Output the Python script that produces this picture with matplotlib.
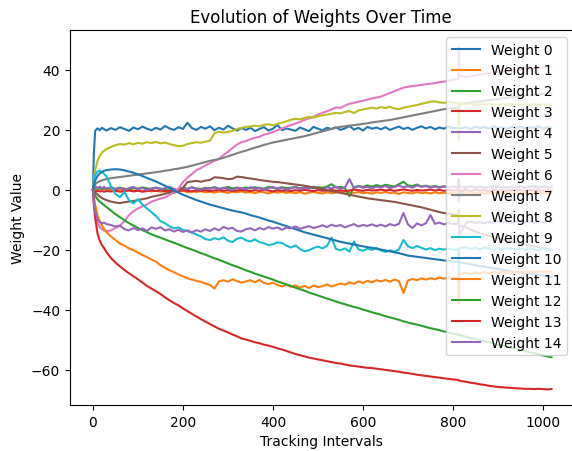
import matplotlib
matplotlib.use("Agg")
import matplotlib.pyplot as plt

# Tracking interval sampling grid (x values)
T = [0, 2, 5, 10, 15, 20, 25, 30] + list(range(40, 801, 10)) + [812, 813, 814] + list(range(830, 1011, 10)) + [1019]

w0 = [0, 12.0, 19.6, 20.4, 19.8, 20.6, 20.1, 19.7,
      20.5, 19.9, 20.8, 20.2, 19.6, 20.7, 20.1, 21.0, 20.3, 19.8,
      20.6, 20.0, 21.2, 20.4, 19.9, 20.8, 20.2, 22.3, 20.5, 19.9,
      20.9, 20.3, 21.1, 19.8, 20.6, 20.0, 21.3, 20.4, 19.7, 20.5,
      19.9, 20.6, 19.5, 20.2, 20.8, 19.7, 20.3, 21.6, 19.8, 20.4,
      20.0, 19.6, 20.7, 20.1, 19.5, 20.9, 20.3, 19.8, 20.6, 20.2,
      20.8, 19.9, 20.4, 21.2, 20.0, 20.6, 19.7, 20.9, 20.3, 20.7,
      20.1, 20.8, 19.9, 20.5, 21.0, 20.2, 20.7, 19.9, 20.6, 21.1,
      20.4, 20.9, 20.1, 20.7, 20.3, 21.0, 20.5,
      20.6, 17.5, 20.4,
      20.8, 20.2, 21.0, 20.5, 20.9, 20.3, 21.1, 20.6, 20.8, 20.2,
      20.9, 20.5, 21.0, 20.4, 20.8, 20.6, 21.1, 20.3, 20.7,
      20.6]

w1 = [0, 0.3, 0.5, 0.4, 0.2, 0.3, 0.1, 0.2,
      0.0, -0.2, 0.1, -0.3, -0.1, -0.4, -0.2, -0.5, -0.3, -0.6,
      -0.4, -0.7, -0.5, -0.3, -0.8, -0.6, -0.4, -0.9, -0.6, -0.8,
      -0.5, -0.9, -0.7, -1.0, -0.6, -0.8, -1.1, -0.7, -0.9, -0.6,
      -1.0, -0.8, -1.2, -0.7, -0.9, -1.3, -0.8, -1.0, -0.7, -1.1,
      -0.9, -1.2, -0.8, -1.4, -1.0, -0.8, -1.1, -1.3, -0.9, -1.2,
      -1.0, -0.7, -1.3, -0.9, -1.1, -0.8, -1.2, -1.0, -1.4, -0.9,
      -1.1, -0.8, -1.2, -1.0, -1.5, -0.9, -1.1, -1.3, -0.8, -1.2,
      -1.0, -1.3, -0.9, -1.2, -1.0, -1.4, -1.1,
      -1.2, -4.0, -1.0,
      -1.3, -0.9, -1.2, -1.0, -1.4, -1.1, -0.9, -1.3, -1.0, -1.2,
      -0.9, -1.3, -1.1, -1.0, -1.4, -1.2, -0.9, -1.1, -1.3,
      -1.1]

w2 = [0, 0.2, 0.4, 0.3, 0.5, 0.2, 0.4, 0.3,
      0.5, 0.2, 0.6, 0.3, 0.1, 0.5, 0.3, 0.7, 0.4, 0.2,
      0.6, 0.3, 0.0, -0.4, -1.2, 0.2, 0.5, 0.3, 0.7, 0.4,
      0.2, 0.6, 0.4, 0.8, 0.3, 0.5, 0.9, 0.4, 0.6, 0.3,
      0.7, 0.4, 0.8, 0.5, 0.3, 0.9, 0.6, 0.4, 0.8, 0.5,
      0.6, 0.9, 0.4, 0.7, 1.0, 0.5, 0.8, 0.6, 1.0, 1.8,
      0.7, 0.9, 0.5, -2.2, 0.8, 1.2, 0.9, 1.4, 1.0, 1.5,
      1.1, 1.6, 1.3, 1.0, 1.8, 2.6, 1.4, 1.2, 1.7, 1.0,
      1.3, 0.9, 1.2, 0.8, 1.1, 0.7, 1.0,
      0.9, 3.5, -2.5,
      0.8, 1.1, 0.7, 1.0, 0.6, 0.9, 1.2, 0.8, 1.0, 0.7,
      1.0, 0.8, 1.1, 0.7, 0.9, 1.2, 0.8, 1.0, 0.9,
      0.9]

w3 = [0, -0.3, -0.5, -0.4, -0.6, -0.5, -0.7, -0.5,
      -0.6, -0.4, -0.7, -0.5, -0.3, -0.6, -0.4, -0.7, -0.5, -0.3,
      -0.5, -0.2, -0.6, -0.4, -0.3, -0.5, -0.2, -0.4, -0.6, -0.3,
      -0.4, -0.2, -0.5, -0.3, -0.1, -0.4, -0.2, -0.5, -0.3, -0.1,
      -0.3, -0.5, -0.2, -0.4, -0.1, -0.3, -0.6, -0.2, -0.4, -0.3,
      -0.5, -0.2, -0.4, -0.1, -0.3, -0.5, -0.2, -0.4, -0.3, -0.1,
      -0.4, -0.2, -0.5, -0.3, 0.0, -0.2, -0.4, -0.1, -0.3, -0.2,
      0.0, -0.3, -0.1, -0.4, -0.2, 0.1, -0.2, -0.4, -0.1, -0.3,
      -0.2, 0.0, -0.3, -0.1, -0.4, -0.2, -0.3,
      -0.2, 1.5, -0.4,
      -0.2, -0.4, -0.1, -0.3, -0.2, -0.5, -0.1, -0.3, -0.2, -0.4,
      -0.1, -0.3, -0.2, -0.4, -0.1, -0.3, -0.2, -0.4, -0.2,
      -0.3]

w4 = [0, 0.6, 1.2, 0.5, 1.0, 0.4, 0.9, 0.3,
      0.8, 0.2, 0.7, -0.1, 0.5, 0.9, 0.1, 0.6, -0.2, 0.4,
      0.7, 0.0, 0.5, 0.9, 0.2, -0.3, 0.6, 0.1, 0.8, 0.3,
      -0.1, 0.5, 0.2, 0.8, 0.0, 0.6, 0.3, -0.2, 0.7, 0.4,
      0.1, 0.8, 0.3, 0.6, -0.1, 0.5, 0.9, 0.2, 0.6, 0.0,
      0.4, 0.8, 0.2, 0.7, 0.3, 1.0, 0.5, 0.1, 0.8, 0.4,
      0.9, 0.3, 0.7, 3.5, 0.5, 1.1, 0.6, 0.9, 0.4, 1.0,
      0.7, 1.2, 0.5, 0.9, 1.3, 0.8, 1.1, 0.6, 1.4, 0.9,
      1.2, 0.7, 1.0, 0.6, 1.1, 0.8, 0.9,
      0.7, -3.0, 1.0,
      0.8, 1.1, 0.6, 0.9, 0.5, 1.0, 0.7, 1.2, 0.8, 0.6,
      1.0, 0.7, 0.9, 0.5, 1.1, 0.8, 0.6, 1.0, 0.7,
      0.8]

w5 = [0, -0.4, -0.9, -1.6, -2.3, -2.8, -3.2, -3.5,
      -4.0, -4.3, -4.5, -4.2, -4.0, -3.8, -3.5, -3.2, -2.9, -2.4,
      -2.1, -1.8, -1.4, -1.0, -0.6, -0.2, 0.6, 2.5, 2.7, 2.9,
      2.6, 3.0, 3.2, 4.1, 4.0, 3.8, 3.5, 3.6, 4.3, 4.2,
      3.9, 3.7, 3.5, 3.2, 3.0, 2.8, 2.6, 2.5, 2.3, 2.1,
      1.9, 1.7, 1.5, 1.3, 1.0, 0.7, 0.4, 0.1, -0.2, -0.5,
      -0.8, -1.1, -1.4, -1.7, -2.0, -2.3, -2.6, -2.9, -3.1, -3.3,
      -3.5, -3.7, -3.9, -4.1, -4.4, -4.7, -5.0, -5.3, -5.6, -5.9,
      -6.3, -6.7, -7.1, -7.5, -7.8, -8.0, -8.2,
      -8.5, -11.0, -12.0,
      -12.6, -13.4, -14.0, -14.5, -15.0, -15.4, -15.8, -16.2, -16.6, -17.0,
      -17.3, -17.6, -18.0, -18.3, -18.6, -18.9, -19.2, -19.5, -19.8,
      -20.0]

w6 = [0, -3.5, -7.5, -11.0, -12.5, -13.2, -13.6, -13.8,
      -13.6, -12.8, -12.0, -10.5, -8.5, -7.2, -6.3, -5.6, -5.0, -4.0,
      -3.5, -3.0, -2.6, -1.8, -0.9, 0.3, 2.5, 4.0, 5.2, 6.5,
      7.2, 8.1, 8.8, 9.6, 10.2, 11.5, 12.6, 13.8, 15.0, 15.8,
      16.2, 16.8, 17.3, 17.6, 18.3, 18.7, 19.2, 19.8, 20.4, 21.0,
      21.5, 22.0, 22.6, 23.2, 23.7, 24.3, 25.0, 25.6, 26.1, 26.7,
      27.4, 27.2, 28.0, 28.6, 28.9, 29.3, 29.6, 30.0, 30.4, 30.7,
      31.0, 31.6, 32.2, 32.8, 33.4, 34.0, 34.3, 34.5, 34.7, 34.9,
      35.1, 35.3, 35.5, 35.8, 36.0, 36.3, 36.6,
      36.8, 47.5, 38.0,
      37.5, 37.8, 38.1, 38.3, 38.6, 38.8, 39.0, 39.2, 39.4, 39.5,
      39.7, 39.8, 40.0, 40.1, 40.3, 40.4, 40.5, 40.6, 40.7,
      40.8]

w7 = [0, 1.0, 1.8, 2.4, 2.8, 3.1, 3.3, 3.5,
      3.8, 4.0, 4.2, 4.4, 4.6, 4.8, 5.0, 5.2, 5.4, 5.6,
      5.8, 6.0, 6.3, 6.5, 6.8, 7.0, 7.3, 7.6, 8.0, 8.4,
      8.8, 9.2, 9.6, 9.9, 10.2, 10.6, 11.1, 11.6, 12.1, 12.6,
      13.0, 13.5, 14.0, 14.4, 14.9, 15.3, 15.7, 16.0, 16.3, 16.6,
      16.9, 17.2, 17.5, 17.8, 18.2, 18.6, 19.0, 19.4, 19.8, 20.2,
      20.6, 20.9, 21.1, 21.3, 21.5, 21.7, 21.9, 22.1, 22.4, 22.6,
      22.8, 23.0, 23.2, 23.5, 23.8, 24.1, 24.4, 24.7, 25.0, 25.3,
      25.6, 25.9, 26.2, 26.5, 26.8, 27.0, 27.2,
      27.3, 24.0, 28.5,
      28.8, 29.0, 29.2, 29.4, 29.6, 29.8, 30.0, 30.2, 30.4, 30.6,
      30.8, 31.0, 31.1, 31.3, 31.5, 31.6, 31.8, 31.9, 32.0,
      32.1]

w8 = [0, 3.5, 6.5, 9.5, 11.2, 12.3, 13.0, 13.5,
      14.2, 14.8, 15.2, 15.0, 15.5, 15.1, 15.6, 15.3, 15.8, 15.5,
      15.9, 15.4, 15.7, 15.2, 14.8, 14.5, 14.6, 15.2, 15.5, 15.8,
      15.6, 16.0, 16.3, 18.8, 19.3, 19.0, 19.2, 19.6, 20.2, 20.6,
      20.9, 21.0, 21.3, 21.1, 21.6, 21.8, 21.4, 21.9, 22.3, 22.8,
      23.3, 23.6, 23.4, 23.9, 24.2, 24.0, 24.4, 24.8, 25.0, 25.3,
      25.6, 25.4, 25.9, 26.2, 25.5, 26.4, 26.7, 27.0, 27.3, 27.0,
      27.5, 27.2, 27.6, 27.0, 26.8, 27.3, 27.6, 27.9, 28.2, 28.6,
      28.9, 29.3, 29.4, 29.1, 28.9, 29.2, 29.0,
      28.8, 16.5, 28.5,
      28.3, 28.6, 28.2, 28.5, 28.3, 28.6, 28.4, 28.2, 28.5, 28.3,
      28.6, 28.4, 28.2, 28.5, 28.3, 28.5, 28.2, 28.4, 28.3,
      28.3]

w9 = [0, 2.5, 4.8, 6.0, 6.3, 5.8, 5.2, 4.4,
      1.2, -1.5, -2.5, -0.8, -3.5, -4.6, -3.2, -5.0, -6.3, -7.5,
      -8.8, -10.5, -11.2, -12.2, -12.9, -12.6, -13.4, -13.9, -14.3, -15.0,
      -15.6, -16.5, -16.8, -16.2, -16.6, -15.9, -17.0, -17.5, -16.4, -16.0,
      -16.9, -17.3, -16.6, -17.5, -17.9, -18.5, -18.2, -17.6, -17.8, -18.7,
      -19.3, -18.6, -19.8, -20.6, -20.2, -19.5, -19.0, -19.6, -18.8, -16.0,
      -19.8, -20.2, -19.6, -20.7, -17.3, -19.9, -20.4, -19.7, -20.1, -19.4,
      -20.3, -20.8, -20.2, -20.7, -19.9, -16.8, -18.9, -19.5, -18.8, -19.4,
      -20.0, -19.5, -20.2, -19.7, -20.0, -19.6, -20.1,
      -19.8, -31.0, -19.5,
      -19.2, -19.8, -19.4, -20.0, -19.3, -19.7, -20.1, -19.5, -19.9, -19.4,
      -19.8, -20.2, -19.6, -20.0, -19.5, -19.9, -20.3, -19.7, -20.0,
      -20.1]

w10 = [0, 1.5, 3.0, 4.5, 5.4, 5.9, 6.3, 6.5,
       6.7, 6.8, 6.7, 6.4, 6.0, 5.6, 5.1, 4.5, 3.9, 3.3,
       2.7, 2.0, 1.3, 0.5, -0.3, -1.0, -1.7, -2.3, -2.9, -3.5,
       -4.0, -4.5, -5.0, -5.4, -5.8, -6.2, -6.6, -7.0, -7.3, -7.6,
       -8.0, -8.5, -8.9, -9.3, -9.8, -10.3, -10.7, -11.2, -11.7, -12.2,
       -12.7, -13.2, -13.7, -14.2, -14.6, -15.0, -15.4, -15.8, -16.2, -16.6,
       -17.0, -17.4, -17.7, -18.0, -18.3, -18.6, -18.9, -19.2, -19.4, -19.7,
       -20.0, -20.3, -20.6, -20.9, -21.2, -21.6, -22.0, -22.2, -22.4, -22.6,
       -22.8, -23.0, -23.2, -23.4, -23.6, -23.8, -24.0,
       -24.1, -24.2, -24.3,
       -24.6, -24.9, -25.2, -25.5, -25.7, -26.0, -26.2, -26.5, -26.7, -27.0,
       -27.2, -27.4, -27.6, -27.8, -28.0, -28.2, -28.4, -28.6, -28.8,
       -29.0]

w11 = [0, -2.5, -5.0, -8.5, -10.5, -12.0, -13.2, -14.2,
       -15.6, -16.8, -18.0, -18.7, -19.6, -20.2, -21.0, -21.8, -22.5, -23.3,
       -24.0, -25.2, -26.0, -26.9, -27.5, -28.3, -28.9, -29.6, -30.0, -30.4,
       -30.8, -31.3, -31.8, -33.0, -30.6, -30.2, -30.7, -29.9, -30.5, -31.0,
       -30.6, -30.2, -30.9, -30.1, -31.1, -31.5, -31.0, -31.8, -32.3, -31.7,
       -32.4, -31.9, -32.6, -32.1, -32.8, -32.0, -32.5, -32.2, -31.6, -32.3,
       -31.8, -31.3, -31.7, -30.9, -31.4, -30.6, -31.1, -30.4, -30.9, -30.2,
       -30.6, -30.1, -30.7, -30.0, -30.5, -34.5, -30.3, -29.8, -30.2, -29.6,
       -30.0, -29.5, -29.9, -29.3, -29.7, -29.2, -29.6,
       -29.3, -38.0, -28.0,
       -27.8, -28.2, -27.6, -28.0, -27.5, -27.9, -27.4, -27.8, -27.3, -27.7,
       -27.2, -27.6, -27.4, -27.8, -27.3, -27.6, -27.2, -27.5, -27.3,
       -27.4]

w12 = [0, -0.8, -2.0, -3.2, -4.0, -4.6, -5.2, -5.8,
       -7.0, -8.2, -9.2, -10.2, -11.2, -12.0, -12.8, -13.5, -14.2, -14.9,
       -15.5, -16.0, -16.6, -17.2, -17.7, -18.3, -18.9, -19.5, -20.0, -20.6,
       -21.2, -21.7, -22.3, -22.9, -23.4, -24.0, -24.6, -25.2, -25.7, -26.3,
       -26.9, -27.4, -28.0, -28.5, -29.0, -29.5, -30.0, -30.6, -31.1, -31.6,
       -32.1, -32.7, -33.2, -33.7, -34.3, -34.8, -35.3, -35.8, -36.3, -36.8,
       -37.3, -37.8, -38.2, -38.7, -39.1, -39.5, -40.0, -40.4, -40.9, -41.3,
       -41.7, -42.2, -42.6, -43.0, -43.4, -43.9, -44.3, -44.7, -45.0, -45.4,
       -45.8, -46.2, -46.5, -46.9, -47.3, -47.6, -48.0,
       -48.3, -48.4, -48.5,
       -49.1, -49.5, -49.8, -50.2, -50.6, -50.9, -51.3, -51.7, -52.0, -52.4,
       -52.7, -53.1, -53.5, -53.8, -54.2, -54.5, -54.9, -55.3, -55.6,
       -55.9]

w13 = [0, -5.0, -9.5, -14.5, -17.0, -18.5, -19.6, -20.8,
       -22.8, -24.3, -25.6, -26.8, -27.9, -28.9, -29.9, -31.0, -32.1, -33.0,
       -33.9, -34.8, -35.9, -36.9, -37.8, -38.6, -39.6, -40.5, -41.4, -42.3,
       -43.2, -44.0, -44.8, -45.6, -46.4, -47.0, -47.6, -48.3, -48.9, -49.6,
       -50.0, -50.4, -50.9, -51.2, -51.7, -52.0, -52.4, -52.9, -53.3, -53.8,
       -54.3, -54.8, -55.2, -55.6, -56.0, -56.3, -56.6, -56.9, -57.2, -57.5,
       -57.8, -58.0, -58.3, -58.6, -58.8, -59.0, -59.2, -59.4, -59.5, -59.7,
       -59.9, -60.1, -60.3, -60.5, -60.7, -61.0, -61.2, -61.4, -61.7, -61.9,
       -62.1, -62.3, -62.5, -62.7, -62.9, -63.1, -63.3,
       -63.4, -63.6, -63.7,
       -64.1, -64.4, -64.6, -64.9, -65.1, -65.4, -65.6, -65.8, -65.9, -66.0,
       -66.1, -66.2, -66.3, -66.4, -66.4, -66.5, -66.4, -66.5, -66.6,
       -66.5]

w14 = [0, -4.0, -7.5, -10.0, -10.8, -11.2, -11.0, -11.5,
       -11.8, -12.3, -12.0, -13.2, -13.6, -12.8, -13.5, -12.9, -13.8, -12.6,
       -13.1, -12.5, -13.6, -13.2, -14.0, -13.4, -14.1, -13.6, -14.3, -13.5,
       -14.0, -13.2, -13.8, -12.9, -13.6, -12.4, -13.1, -12.7, -13.8, -14.0,
       -13.2, -12.9, -13.6, -12.8, -13.3, -12.5, -13.0, -12.6, -13.4, -12.7,
       -12.9, -12.3, -13.1, -12.6, -12.2, -12.8, -12.4, -11.9, -12.5, -11.7,
       -12.2, -11.8, -12.6, -12.0, -11.5, -12.3, -11.8, -12.1, -11.6, -12.2,
       -11.7, -12.3, -11.5, -12.0, -11.4, -7.8, -11.6, -12.8, -11.3, -11.9,
       -11.2, -8.5, -11.4, -11.0, -11.6, -11.1, -11.5,
       -11.3, -6.5, -15.0,
       -11.0, -10.6, -11.2, -10.8, -11.3, -10.7, -11.1, -10.5, -11.0, -10.6,
       -11.2, -10.8, -10.4, -11.0, -10.6, -11.1, -10.7, -10.9, -10.5,
       -10.8]

weights = [w0, w1, w2, w3, w4, w5, w6, w7, w8, w9, w10, w11, w12, w13, w14]
labels = [f"Weight {i}" for i in range(len(weights))]

W, H = 572, 452
fig = plt.figure(figsize=(W / 100, H / 100), dpi=100)
ax_left, ax_right, ax_top, ax_bottom = 70, 572, 31, 406
ax = fig.add_axes([ax_left / W, (H - ax_bottom) / H,
                   (ax_right - ax_left) / W, (ax_bottom - ax_top) / H])
for w, lab in zip(weights, labels):
    ax.plot(T, w, label=lab, linewidth=1.5)

# keep 0 at ~93 px and 1000 at ~543 px
ax.set_xlim(-51, -51 + (ax_right - ax_left) / 0.45)
ax.set_ylim(-71.8, 53.2)
ax.spines["right"].set_visible(False)
ax.set_title("Evolution of Weights Over Time")
ax.set_xlabel("Tracking Intervals")
ax.set_ylabel("Weight Value")
ax.legend(loc="upper right", bbox_to_anchor=(574 / W, (H - 31) / H),
          bbox_transform=fig.transFigure)

fig.savefig("out.png", dpi=100)
